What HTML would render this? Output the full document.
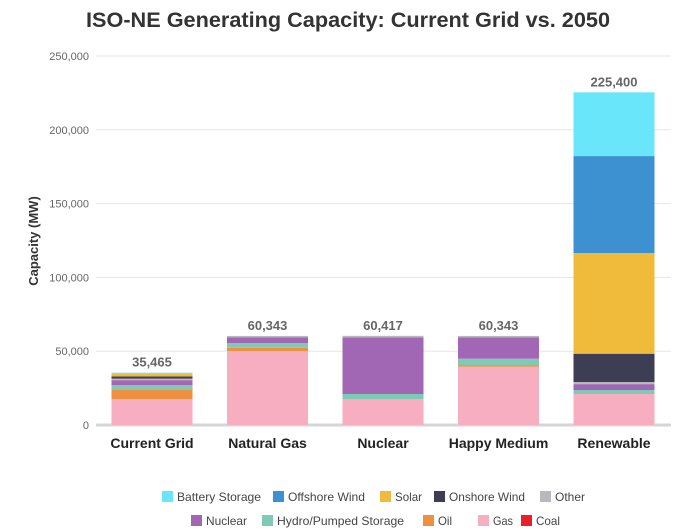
<!DOCTYPE html>
<html><head><meta charset="utf-8"><style>
body{margin:0;background:#fff;width:696px;height:532px;overflow:hidden;font-family:"Liberation Sans",sans-serif}
svg{display:block}
</style></head><body>
<svg id="chart" width="696" height="532">
<text x="348" y="27" text-anchor="middle" font-family="'Liberation Sans',sans-serif" font-weight="bold" font-size="21" fill="#333" textLength="524" lengthAdjust="spacingAndGlyphs">ISO-NE Generating Capacity: Current Grid vs. 2050</text>
<text transform="translate(38,241) rotate(-90)" text-anchor="middle" font-weight="bold" font-size="13" fill="#333">Capacity (MW)</text>
<g id="grid"></g><g id="bars"></g><g id="legend"></g>
</svg>
<script>
const categories=["Current Grid","Natural Gas","Nuclear","Happy Medium","Renewable"];
const totals=[35465,60343,60417,60343,225400];
const seriesNames=["Coal","Gas","Oil","Hydro/Pumped Storage","Nuclear","Other","Onshore Wind","Solar","Offshore Wind","Battery Storage"];
const coal=[0,0,0,0,0];
const gas=[17600,50100,17600,39500,21000];
const oil=[6100,2200,0,1100,0];
const hydro=[3400,3200,3400,4300,2700];
const nuclear=[3300,3800,38400,14400,4000];
const other=[1000,1043,1017,1043,1400];
const onshore=[1500,0,0,0,19200];
const solar=[1700,0,0,0,68200];
const offshore=[0,0,0,0,65700];
const battery=[865,0,0,0,43200];
const yTicks=[0,50000,100000,150000,200000,250000];
const colors=["#e8202a","#f7aec0","#ef9041","#7fcab5","#a267b4","#b9b9bd","#3d3e54","#f0bb3a","#3d91d1","#6ae6fb"];
const series=[coal,gas,oil,hydro,nuclear,other,onshore,solar,offshore,battery];
const NS="http://www.w3.org/2000/svg";
const y0=425,yTop=56,yMax=250000;
function yScale(v){return y0-(v/yMax)*(y0-yTop);}
function xCenter(i){return 152+i*115.5;}
const barW=81;
function mk(tag,attrs,parent){const e=document.createElementNS(NS,tag);for(const k in attrs)e.setAttribute(k,attrs[k]);parent.appendChild(e);return e;}
const grid=document.getElementById('grid');
yTicks.forEach(t=>{
 const y=yScale(t);
 const l=mk('line',{x1:96,x2:671,y1:y,y2:y,stroke:t===0?'#d5d5d5':'#e6e6e6','stroke-width':t===0?3:1},grid);
 
 
 const tx=mk('text',{x:89,y:y+4,'text-anchor':'end','font-size':11,fill:'#666'},grid);
 tx.textContent=t.toLocaleString('en-US');
 
 
});
const bars=document.getElementById('bars');
categories.forEach((c,i)=>{
 let cum=0;const x=xCenter(i)-barW/2;
 series.forEach((s,j)=>{
  const v=s[i];if(!v)return;
  const yA=yScale(cum),yB=yScale(cum+v);cum+=v;
  const r=mk('rect',{x:x,y:yB,width:barW,height:yA-yB,fill:colors[j]},bars);
  
  
 });
 const lab=mk('text',{x:xCenter(i),y:yScale(totals[i])-6,'text-anchor':'middle','font-size':13,'font-weight':'bold',fill:'#666'},bars);
 lab.textContent=totals[i].toLocaleString('en-US');
 
 
 const cl=mk('text',{x:xCenter(i),y:448,'text-anchor':'middle','font-size':14,'font-weight':'bold',fill:'#222'},bars);
 cl.textContent=c;
 
 
});
const legend=document.getElementById('legend');
const legendItems=[
 [9,162,497,84],[8,273,497,77],[7,380,497,27],[6,434,497,76],[5,540,497,30],
 [4,191,521,41],[3,262,521,127],[2,423,521,14],[1,478,521,20],[0,521,521,24]];
legendItems.forEach(([j,x,y,w])=>{
 const g=mk('g',{},legend);
 
 
 mk('rect',{x:x,y:y-6,width:11,height:11,fill:colors[j]},g);
 const t=mk('text',{x:x+15,y:y+4,'font-size':12,fill:'#444',textLength:w,lengthAdjust:'spacingAndGlyphs'},g);
 t.textContent=seriesNames[j];
});
</script>
</body></html>
